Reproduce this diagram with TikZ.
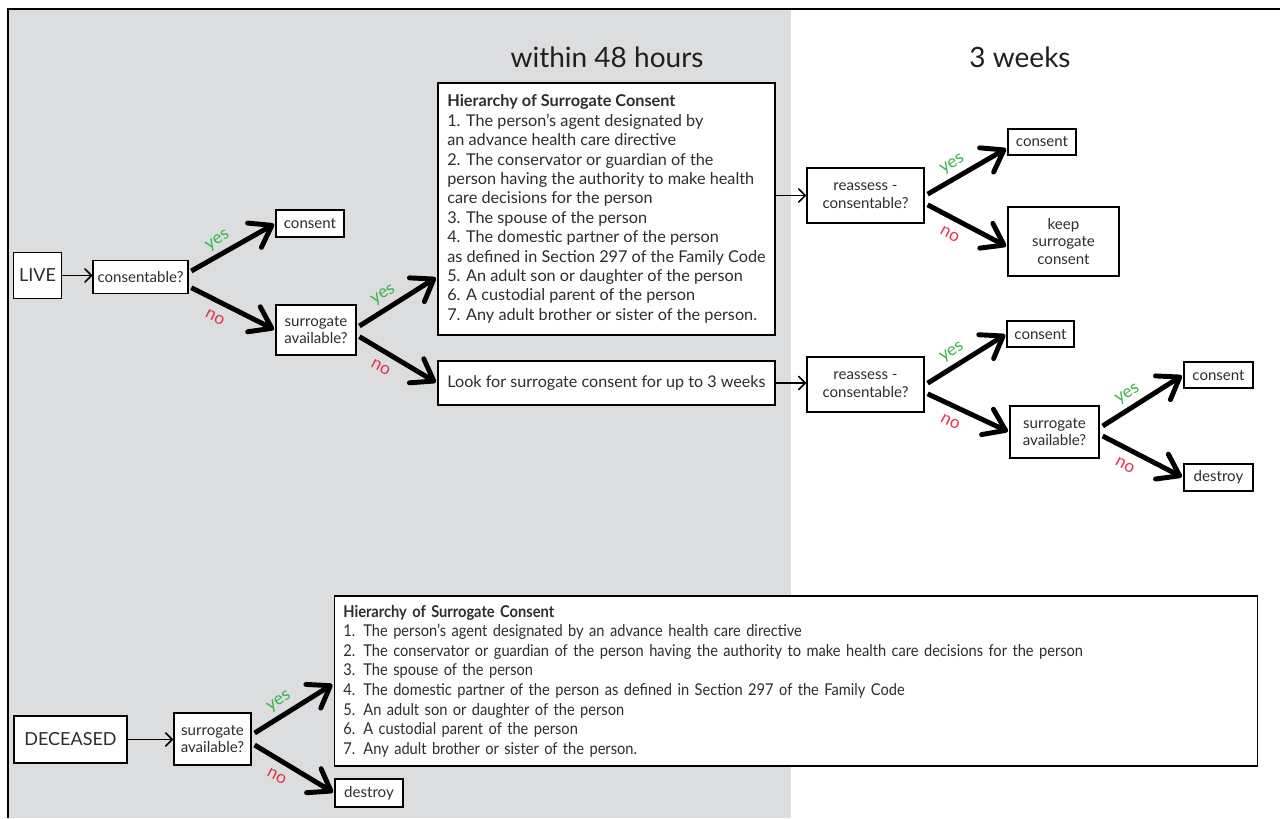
\documentclass[tikz,border=0pt]{standalone}
\usepackage{fontspec}
\setmainfont{Lato}
\newfontfamily\narrowfont[FakeStretch=0.9]{Lato}
\usetikzlibrary{arrows.meta}

\definecolor{panelgray}{RGB}{220,221,223}
\definecolor{yesgreen}{RGB}{57,181,74}
\definecolor{nored}{RGB}{232,51,74}
\definecolor{boxtext}{RGB}{45,45,45}

\tikzset{every picture/.style={line width=0.75pt}}
\tikzset{
  box/.style={draw=black, fill=white, line width=1.2pt, text=boxtext, inner sep=2pt,
    align=center, font=\fontsize{11.3}{13.3}\selectfont},
  bigbox/.style={box, font=\fontsize{13.5}{16}\selectfont},
  hierbox/.style={box, align=left, inner xsep=7pt, font=\fontsize{12.2}{14.55}\selectfont},
  thinarrow/.style={line width=1.2pt, -{Straight Barb[length=5pt,width=10pt,round]}},
  thickarrow/.style={line width=3.7pt, -{Straight Barb[length=15pt,width=21pt,round]}, shorten >=1pt},
  yeslbl/.style={text=yesgreen, font=\fontsize{13}{14}\selectfont, pos=0.4, rotate=32, anchor=south, inner sep=3.5pt},
  nolbl/.style={text=nored, font=\fontsize{13}{14}\selectfont, pos=0.37, rotate=-28, anchor=north, inner sep=6.5pt},
  phase/.style={text=black!88, font=\fontsize{21}{25}\selectfont}
}

\begin{document}
\begin{tikzpicture}[x=0.75pt,y=0.75pt,yscale=-1,xscale=1]
\useasboundingbox (0,0) rectangle (1280,818);

% panel and frame
\fill[panelgray] (9,10) rectangle (791,818);
\draw[line width=1.5pt] (8,818) -- (8,9) -- (1280,9);

% Text Node
\node[phase] (t48) at (607,57) {within 48 hours};
% Text Node
\node[phase] (t3w) at (1020,57) {3 weeks};

% live branch
\node[bigbox, minimum width=36pt, minimum height=34.5pt] (live) at (37.5,275.5) {LIVE};
\node[box, minimum width=71pt, minimum height=25pt] (cons) at (140.5,277) {consentable?};
\node[box, minimum width=51pt, minimum height=20pt] (consA) at (310,223.5) {consent};
\node[box, minimum width=60pt, minimum height=37.5pt] (surrA) at (316,330) {surrogate\\available?};
\node[hierbox, minimum width=253pt, minimum height=189pt] (hierA) at (606.5,209) {%
\textbf{Hierarchy of Surrogate Consent}\\
1. The person’s agent designated by\\
an advance health care directive\\
2. The conservator or guardian of the\\
person having the authority to make health\\
care decisions for the person\\
3. The spouse of the person\\
4. The domestic partner of the person\\
as defined in Section 297 of the Family Code\\
5. An adult son or daughter of the person\\
6. A custodial parent of the person\\
7. Any adult brother or sister of the person.};
\node[box, minimum width=253pt, minimum height=33pt, font=\fontsize{12.1}{14}\selectfont] (look) at (606.5,383) {Look for surrogate consent for up to 3 weeks};

% three week branch
\node[box, minimum width=88pt, minimum height=41pt] (reA) at (865.5,195.5) {reassess -\\consentable?};
\node[box, minimum width=51pt, minimum height=19.5pt] (consB) at (1042,142) {consent};
\node[box, minimum width=83pt, minimum height=52pt] (keep) at (1063.5,241.5) {keep\\surrogate\\consent};
\node[box, minimum width=88pt, minimum height=41pt] (reB) at (865.5,384.5) {reassess -\\consentable?};
\node[box, minimum width=50pt, minimum height=19.5pt] (consC) at (1040.5,334) {consent};
\node[box, minimum width=67pt, minimum height=39pt] (surrB) at (1054.5,432) {surrogate\\available?};
\node[box, minimum width=52pt, minimum height=19.5pt] (consD) at (1218.5,375) {consent};
\node[box, minimum width=52pt, minimum height=20pt] (destA) at (1218.5,477.5) {destroy};

% deceased branch
\node[bigbox, minimum width=85pt, minimum height=35pt] (dec) at (70.5,739.5) {DECEASED};
\node[box, minimum width=58pt, minimum height=39pt] (surrC) at (212.5,739) {surrogate\\available?};
\node[hierbox, text width=679pt, minimum height=127.5pt, inner xsep=6.75pt, font=\narrowfont\fontsize{12.2}{14.7}\selectfont] (hierB) at (796,681) {%
\textbf{Hierarchy of Surrogate Consent}\\
1. The person’s agent designated by an advance health care directive\\
2. The conservator or guardian of the person having the authority to make health care decisions for the person\\
3. The spouse of the person\\
4. The domestic partner of the person as defined in Section 297 of the Family Code\\
5. An adult son or daughter of the person\\
6. A custodial parent of the person\\
7. Any adult brother or sister of the person.};
\node[box, minimum width=51pt, minimum height=21pt] (destB) at (369,793) {destroy};

% thin connectors
\draw[thinarrow] (live.east) -- (live.east -| cons.west);
\draw[thinarrow] (hierA.east |- reA.west) -- (reA.west);
\draw[thinarrow] (look.east) -- (look.east -| reB.west);
\draw[thinarrow] (dec.east) -- (dec.east -| surrC.west);

% decisions (yshift points down here, y axis is flipped)
\draw[thickarrow] ([xshift=2pt,yshift=-4.5pt]cons.east) -- (consA.west) node[yeslbl] {yes};
\draw[thickarrow] ([xshift=2pt,yshift=8pt]cons.east) -- (surrA.west) node[nolbl] {no};
\draw[thickarrow] ([xshift=2pt,yshift=-3pt]surrA.east) -- ([yshift=51pt]hierA.west) node[yeslbl] {yes};
\draw[thickarrow] ([xshift=2pt,yshift=5pt]surrA.east) -- (look.west) node[nolbl] {no};
\draw[thickarrow] ([xshift=2pt,yshift=-1pt]reA.east) -- ([yshift=4.5pt]consB.west) node[yeslbl] {yes};
\draw[thickarrow] ([xshift=2pt,yshift=7pt]reA.east) -- ([yshift=4pt]keep.west) node[nolbl] {no};
\draw[thickarrow] ([xshift=2pt,yshift=-1pt]reB.east) -- (consC.west) node[yeslbl] {yes};
\draw[thickarrow] ([xshift=2pt,yshift=7pt]reB.east) -- (surrB.west) node[nolbl] {no};
\draw[thickarrow] ([xshift=2pt,yshift=-4.5pt]surrB.east) -- (consD.west) node[yeslbl] {yes};
\draw[thickarrow] ([xshift=2pt,yshift=3pt]surrB.east) -- (destA.west) node[nolbl] {no};
\draw[thickarrow] ([xshift=2pt,yshift=-4.5pt]surrC.east) -- ([yshift=2pt]hierB.west) node[yeslbl] {yes};
\draw[thickarrow] ([xshift=2pt,yshift=4.5pt]surrC.east) -- (destB.west) node[nolbl] {no};

\end{tikzpicture}
\end{document}
